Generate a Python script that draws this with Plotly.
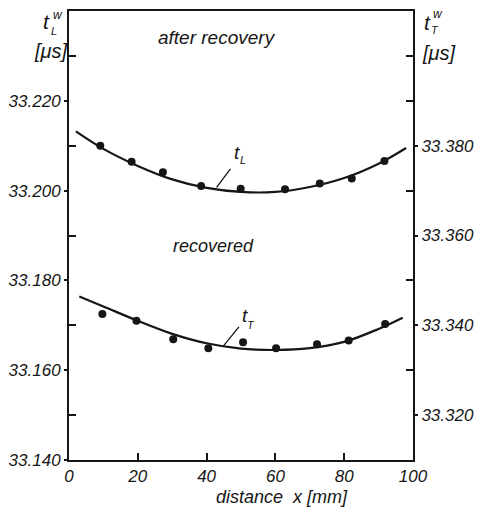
import plotly.graph_objects as go

# ---------------- data ----------------
# measured points, after recovery (t_L, left axis)
xL = [9.1, 18.2, 27.3, 38.4, 49.9, 62.8, 72.9, 82.2, 91.7]
tL = [33.2100, 33.2064, 33.2041, 33.2010, 33.2004, 33.2003, 33.2016, 33.2027, 33.2066]
# drawn fit curve for t_L
xL_fit = [2, 10, 20, 30, 40, 50, 60, 70, 80, 90, 98]
tL_fit = [33.2132, 33.2093, 33.2055, 33.2025, 33.2006, 33.1997, 33.1997, 33.2008, 33.2028, 33.2060, 33.2095]

# measured points, recovered (t_T, right axis)
xT = [9.7, 19.6, 30.3, 40.5, 50.6, 60.2, 72.1, 81.3, 91.9]
tT = [33.3425, 33.3410, 33.3369, 33.3349, 33.3362, 33.3349, 33.3358, 33.3366, 33.3403]
# drawn fit curve for t_T
xT_fit = [3, 10, 20, 30, 40, 50, 60, 70, 80, 90, 97]
tT_fit = [33.3464, 33.3442, 33.3410, 33.3381, 33.3360, 33.3348, 33.3345, 33.3349, 33.3363, 33.3392, 33.3417]

# axes / tick labels
x_ticks = [0, 20, 40, 60, 80, 100]
left_major = [33.14, 33.16, 33.18, 33.20, 33.22]
left_labels = ["33.140", "33.160", "33.180", "33.200", "33.220"]
left_minor = [33.15, 33.17, 33.19, 33.21, 33.23]
right_major = [33.32, 33.34, 33.36, 33.38]
right_labels = ["33.320", "33.340", "33.360", "33.380"]
right_minor = [33.33, 33.35, 33.37, 33.39, 33.40]

INK = "#161616"
FONT = "Liberation Sans"

# plot-area geometry in pixels (for placing annotations)
L, R, T, B = 64, 423, 9, 460
W, H = 483, 508


def px(x):
    return (x - L) / (R - L)


def py(y):
    return (B - y) / (B - T)


fig = go.Figure()

fig.add_trace(go.Scatter(x=xL_fit, y=tL_fit, mode="lines", line=dict(color=INK, width=2.2, shape="spline"),
                         yaxis="y", showlegend=False, hoverinfo="skip"))
fig.add_trace(go.Scatter(x=xL, y=tL, mode="markers", marker=dict(color=INK, size=8),
                         yaxis="y", showlegend=False))
fig.add_trace(go.Scatter(x=xT_fit, y=tT_fit, mode="lines", line=dict(color=INK, width=2.2, shape="spline"),
                         yaxis="y2", showlegend=False, hoverinfo="skip"))
fig.add_trace(go.Scatter(x=xT, y=tT, mode="markers", marker=dict(color=INK, size=8),
                         yaxis="y2", showlegend=False))

anns = []


def ann(text, x, y, size, xanchor="center"):
    anns.append(dict(text=text, x=px(x), y=py(y), xref="paper", yref="paper", showarrow=False,
                     xanchor=xanchor, yanchor="middle", borderpad=0,
                     font=dict(family=FONT, size=size, color=INK, style="italic")))


# axis titles (left edges given)
ann("t", 36, 20, 21, "left")
ann("w", 46, 13, 12, "left")
ann("L", 44, 29, 11, "left")
ann("[μs]", 26, 49, 20, "left")
ann("t", 433, 21, 21, "left")
ann("w", 443, 12, 12, "left")
ann("T", 441, 28, 11, "left")
ann("[μs]", 431, 51, 20, "left")
ann("after recovery", 156, 36, 19, "left")
ann("recovered", 171, 245, 18, "left")
ann("distance  x [mm]", 216, 497, 18, "left")

# curve labels
ann("t", 235, 151, 19, "left")
ann("L", 241, 159, 11, "left")
ann("t", 243, 315, 19, "left")
ann("T", 249, 324, 11, "left")

# leader lines
anns.append(dict(x=42.9, y=33.2007, xref="x", yref="y", text="", showarrow=True, arrowhead=0,
                 arrowwidth=1.3, arrowcolor=INK, ax=15, ay=-20, standoff=0, startstandoff=0))
anns.append(dict(x=44.8, y=33.3353, xref="x", yref="y2", text="", showarrow=True, arrowhead=0,
                 arrowwidth=1.3, arrowcolor=INK, ax=17, ay=-21, standoff=0, startstandoff=0))

tickfont = dict(family=FONT, size=17, color=INK, style="italic")

fig.update_layout(
    width=W, height=H,
    margin=dict(l=L, r=W - R, t=T, b=H - B),
    paper_bgcolor="white", plot_bgcolor="white",
    showlegend=False,
    annotations=anns,
    xaxis=dict(range=[0, 100], tickmode="array", tickvals=x_ticks, ticktext=[str(v) for v in x_ticks],
               ticks="inside", ticklen=7, tickwidth=1.6, tickcolor=INK,
               showline=True, linewidth=2, linecolor=INK, mirror=True,
               showgrid=False, zeroline=False, tickfont=tickfont),
    yaxis=dict(range=[33.14, 33.24], tickmode="array", tickvals=left_major, ticktext=left_labels,
               ticks="outside", ticklen=3, tickwidth=1.6, tickcolor=INK,
               minor=dict(tickmode="array", tickvals=left_minor, ticks="inside", ticklen=7,
                          tickwidth=1.6, tickcolor=INK, showgrid=False),
               showline=True, linewidth=2, linecolor=INK, mirror=False,
               showgrid=False, zeroline=False, tickfont=tickfont),
    yaxis2=dict(range=[33.31, 33.41], overlaying="y", side="right", anchor="x",
                tickmode="array", tickvals=right_major, ticktext=right_labels,
                ticks="outside", ticklen=3, tickwidth=1.6, tickcolor=INK,
                minor=dict(tickmode="array", tickvals=right_minor, ticks="inside", ticklen=7,
                           tickwidth=1.6, tickcolor=INK, showgrid=False),
                showline=True, linewidth=2, linecolor=INK,
                showgrid=False, zeroline=False, tickfont=tickfont),
)

fig.write_html("out.html")
